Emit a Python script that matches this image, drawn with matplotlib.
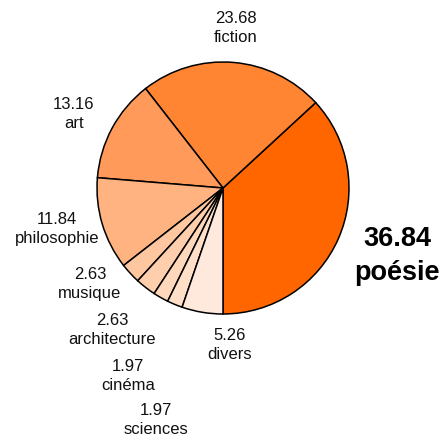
import matplotlib.pyplot as plt

plt.rcParams['font.family'] = ['Liberation Sans', 'DejaVu Sans']

# parts (percent) by genre, in drawing order (counterclockwise from bottom)
genres = ['poésie', 'fiction', 'art', 'philosophie', 'musique',
          'architecture', 'cinéma', 'sciences', 'divers']
shares = [36.84, 23.68, 13.16, 11.84, 2.63, 2.63, 1.97, 1.97, 5.26]
colors = ['#FF6600', '#FF8533', '#FF9A5A', '#FFB380', '#FFC7A0',
          '#FFCFAD', '#FFD8BC', '#FFDFC8', '#FFE8DC']

# label anchor positions in pixels (x, y from top)
label_pos = [(397, 256), (236, 28), (74, 114), (57, 229), (90, 284),
             (112, 330), (128, 376), (156, 420), (230, 345)]

W = H = 443
fig = plt.figure(figsize=(W / 100, H / 100), dpi=100)
ax = fig.add_axes([0, 0, 1, 1])

ax.pie(shares, colors=colors, startangle=-90, counterclock=True,
       center=(223, H - 188), radius=126, frame=True,
       wedgeprops=dict(edgecolor='black', linewidth=1.1))
ax.set_xlim(0, W)
ax.set_ylim(0, H)
ax.set_aspect('equal')
ax.axis('off')

for i, (g, v) in enumerate(zip(genres, shares)):
    x, y = label_pos[i]
    if i == 0:
        ax.text(x, H - y, f'{v:.2f}\n{g}', ha='center', va='center',
                fontsize=19.5, fontweight='bold', linespacing=1.38)
    else:
        ax.text(x, H - y, f'{v:.2f}\n{g}', ha='center', va='center',
                fontsize=12, linespacing=1.3, color='#111111')

fig.savefig('out.png', dpi=100)
